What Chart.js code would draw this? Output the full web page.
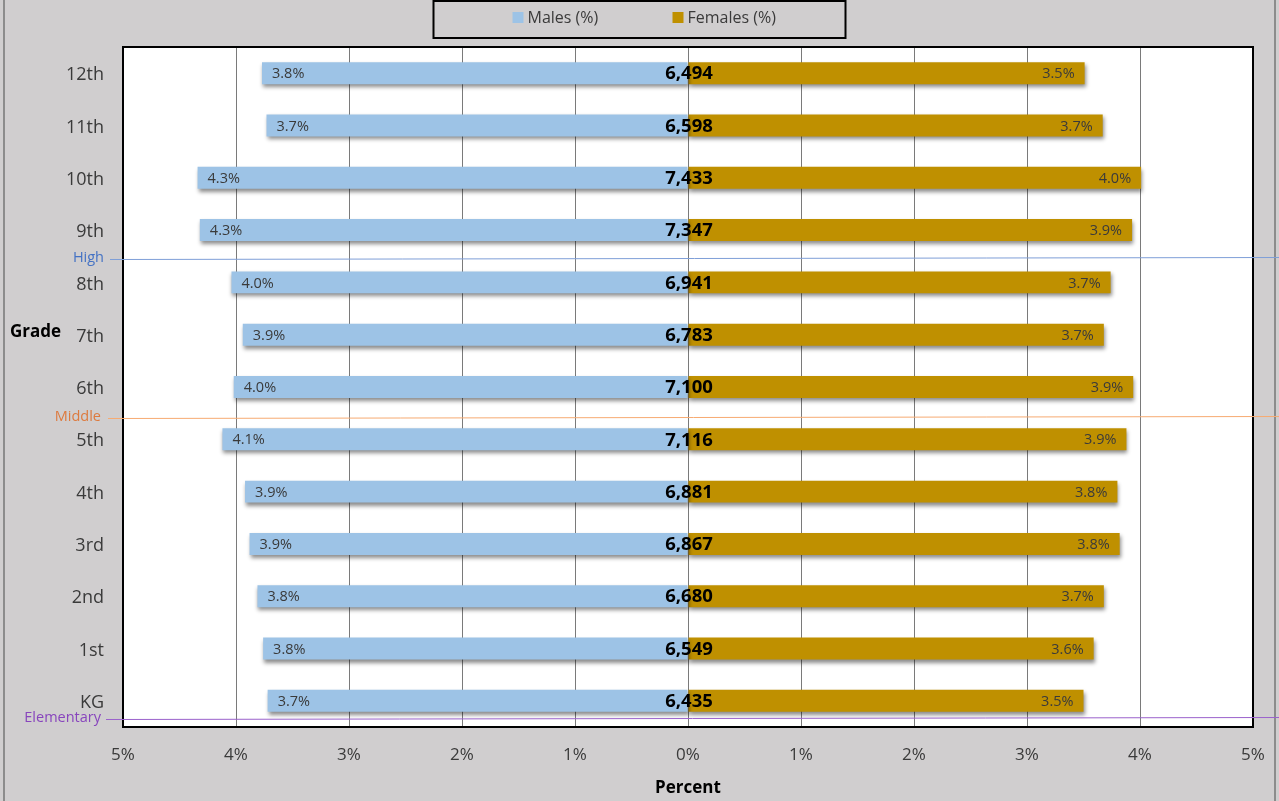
<!DOCTYPE html>
<html>
<head>
<meta charset="utf-8">
<title>Enrollment by Grade</title>
<script src="https://cdn.jsdelivr.net/npm/chart.js@4.4.1/dist/chart.umd.min.js"></script>
<style>
  html, body { margin: 0; padding: 0; background: #d0cecf; }
  canvas { display: block; }
</style>
</head>
<body>
<canvas id="pyramid" width="1279" height="801"></canvas>
<script>
// grade pyramid data, top row first
const grades = ['12th', '11th', '10th', '9th', '8th', '7th', '6th', '5th', '4th', '3rd', '2nd', '1st', 'KG'];
const malePct = [3.77, 3.73, 4.34, 4.32, 4.04, 3.94, 4.02, 4.12, 3.92, 3.88, 3.81, 3.76, 3.72];
const femalePct = [3.51, 3.67, 4.01, 3.93, 3.74, 3.68, 3.94, 3.88, 3.80, 3.82, 3.68, 3.59, 3.50];
const totals = [6494, 6598, 7433, 7347, 6941, 6783, 7100, 7116, 6881, 6867, 6680, 6549, 6435];
const seriesNames = ['Males (%)', 'Females (%)'];

// school level dividers, in category units along the grade axis
const levelNames = ['High', 'Middle', 'Elementary'];
const levelAt = [3.53, 6.57, 12.33];

const FONT = '"Segoe UI", "Open Sans", "Noto Sans", sans-serif';
const MALE_COLOR = '#9dc3e6';
const FEMALE_COLOR = '#bf9000';
const levelStyle = [
    { text: '#4472c4', line: '#7f9fd8', from: 110 },
    { text: '#dd7a3e', line: '#f7ab72', from: 108 },
    { text: '#8845bd', line: '#9b62cc', from: 106 }
];

// grey page, white plot and the outer edge rules
const backdrop = {
    id: 'backdrop',
    beforeDraw(chart) {
        const { ctx, chartArea: a } = chart;
        ctx.save();
        ctx.fillStyle = '#d0cecf';
        ctx.fillRect(0, 0, chart.width, chart.height);
        ctx.fillStyle = '#ffffff';
        ctx.fillRect(a.left, a.top, a.right - a.left, a.bottom - a.top);
        ctx.strokeStyle = '#8c8c8c';
        ctx.lineWidth = 2;
        ctx.beginPath();
        ctx.moveTo(4, 0);
        ctx.lineTo(4, chart.height);
        ctx.moveTo(chart.width - 4, 0);
        ctx.lineTo(chart.width - 4, chart.height);
        ctx.stroke();
        ctx.restore();
    }
};

// soft drop shadow under the bars
const barShadow = {
    id: 'barShadow',
    beforeDatasetsDraw(chart) {
        const ctx = chart.ctx;
        ctx.save();
        ctx.shadowColor = 'rgba(0, 0, 0, 0.45)';
        ctx.shadowBlur = 4;
        ctx.shadowOffsetX = 1;
        ctx.shadowOffsetY = 3;
    },
    afterDatasetsDraw(chart) {
        chart.ctx.restore();
    }
};

// frame, legend, value labels, level dividers and the side title
const overlay = {
    id: 'overlay',
    afterDraw(chart) {
        const { ctx, chartArea: a } = chart;
        const xScale = chart.scales.x;
        const yScale = chart.scales.y;
        const males = chart.getDatasetMeta(0).data;
        const females = chart.getDatasetMeta(1).data;
        ctx.save();

        // plot frame
        ctx.strokeStyle = '#000000';
        ctx.lineWidth = 2;
        ctx.strokeRect(a.left, a.top, a.right - a.left, a.bottom - a.top);

        // percent labels inside the bar ends
        ctx.font = '14.5px ' + FONT;
        ctx.fillStyle = '#3a3a3a';
        ctx.textBaseline = 'middle';
        males.forEach((bar, i) => {
            ctx.textAlign = 'left';
            ctx.fillText(malePct[i].toFixed(1) + '%', bar.x + 10, bar.y + 1);
        });
        females.forEach((bar, i) => {
            ctx.textAlign = 'right';
            ctx.fillText(femalePct[i].toFixed(1) + '%', bar.x - 10, bar.y + 1);
        });

        // grade totals on the zero line
        ctx.font = 'bold 18.5px ' + FONT;
        ctx.fillStyle = '#000000';
        ctx.textAlign = 'center';
        const zero = xScale.getPixelForValue(0);
        totals.forEach((t, i) => {
            ctx.fillText(t.toLocaleString('en-US'), zero + 1, males[i].y + 1);
        });

        // level dividers
        ctx.font = '14.5px ' + FONT;
        ctx.lineWidth = 1;
        levelNames.forEach((name, i) => {
            const y = Math.round(yScale.getPixelForValue(levelAt[i])) + 0.5;
            ctx.strokeStyle = levelStyle[i].line;
            ctx.beginPath();
            ctx.moveTo(levelStyle[i].from, y + 1);
            ctx.lineTo(chart.width, y - 1);
            ctx.stroke();
            ctx.fillStyle = levelStyle[i].text;
            ctx.textAlign = 'right';
            ctx.fillText(name, i === 0 ? 104 : 101, y - 1);
        });

        // side title
        ctx.font = 'bold 17px ' + FONT;
        ctx.fillStyle = '#000000';
        ctx.textAlign = 'left';
        ctx.fillText('Grade', 10, a.top + (a.bottom - a.top) * 0.419);

        // legend box
        const cx = chart.width / 2;
        ctx.strokeStyle = '#000000';
        ctx.lineWidth = 2;
        ctx.strokeRect(cx - 206, 1, 412, 37);
        ctx.font = '16px ' + FONT;
        const swatches = [MALE_COLOR, FEMALE_COLOR];
        const starts = [cx - 127, cx + 33];
        seriesNames.forEach((name, i) => {
            ctx.fillStyle = swatches[i];
            ctx.fillRect(starts[i], 12, 11, 11);
            ctx.fillStyle = '#3a3a3a';
            ctx.textAlign = 'left';
            ctx.fillText(name, starts[i] + 15, 18);
        });

        ctx.restore();
    }
};

new Chart(document.getElementById('pyramid'), {
    type: 'bar',
    data: {
        labels: grades,
        datasets: [{
            label: seriesNames[0],
            data: malePct.map(v => -v),
            backgroundColor: MALE_COLOR,
            borderWidth: 0
        }, {
            label: seriesNames[1],
            data: femalePct,
            backgroundColor: FEMALE_COLOR,
            borderWidth: 0
        }]
    },
    options: {
        indexAxis: 'y',
        responsive: false,
        animation: false,
        categoryPercentage: 1,
        barPercentage: 0.42,
        layout: { padding: { left: 0, right: 26, top: 47, bottom: 0 } },
        plugins: {
            legend: { display: false },
            tooltip: { enabled: false }
        },
        scales: {
            x: {
                stacked: true,
                min: -5,
                max: 5,
                afterFit(scale) {
                    scale.height = 74;
                    // end labels may hang over the frame, no extra side room
                    scale.paddingLeft = 0;
                    scale.paddingRight = 0;
                },
                ticks: {
                    stepSize: 1,
                    padding: 18,
                    color: '#3a3a3a',
                    font: { family: FONT, size: 17 },
                    callback: v => Math.abs(v) + '%'
                },
                grid: { color: '#7a7a7a', lineWidth: 1, drawTicks: false },
                border: { display: false },
                title: {
                    display: true,
                    text: 'Percent',
                    color: '#000000',
                    font: { family: FONT, size: 17, weight: 'bold' },
                    padding: { top: 0, bottom: 3 }
                }
            },
            y: {
                stacked: true,
                afterFit(scale) { scale.width = 123; },
                ticks: {
                    padding: 19,
                    labelOffset: 2,
                    color: '#3a3a3a',
                    font: { family: FONT, size: 18 }
                },
                grid: { display: false, drawTicks: false },
                border: { display: false }
            }
        }
    },
    plugins: [backdrop, barShadow, overlay]
});
</script>
</body>
</html>
